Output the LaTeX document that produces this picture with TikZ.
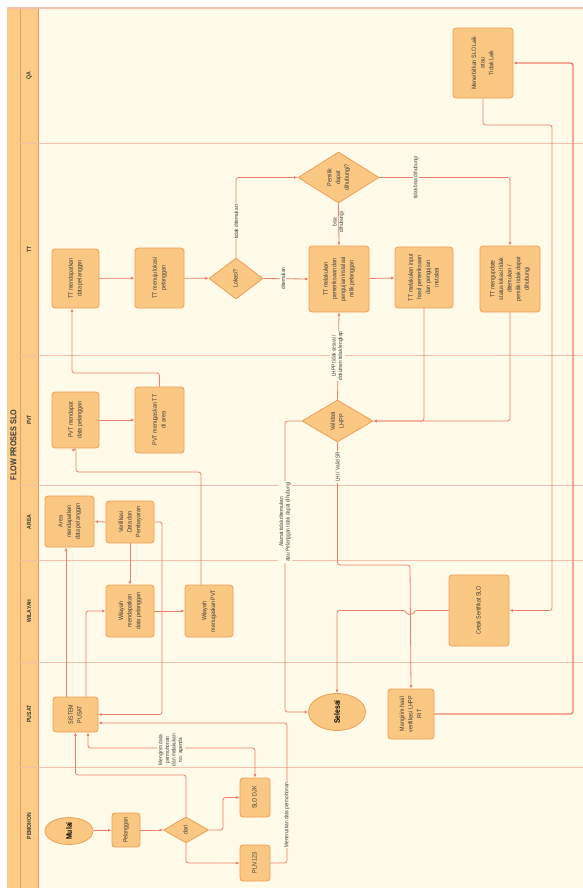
\documentclass[tikz,border=0pt]{standalone}
\usepackage{fontspec}
\setmainfont{Liberation Sans}[FakeStretch=0.85]
\usepackage{graphicx}
\usetikzlibrary{arrows.meta,shapes.geometric,calc}
\definecolor{bg}{HTML}{FFFBE8}
\definecolor{hdr}{HTML}{FCCB86}
\definecolor{hdrline}{HTML}{E89A6A}
\definecolor{sep}{HTML}{F8BEAE}
\definecolor{boxfill}{HTML}{FAC882}
\definecolor{boxline}{HTML}{EE9E5A}
\definecolor{lineclr}{HTML}{EF7F6A}
\definecolor{txt}{HTML}{3A3A3A}
\newcommand{\rt}[1]{\rotatebox{90}{\begin{tabular}{@{}c@{}}#1\end{tabular}}}
\newcommand{\txtfont}{\fontsize{6.3}{8.6}\selectfont}
\newcommand{\lblfont}{\fontsize{5.6}{6.6}\selectfont}
\begin{document}
\begin{tikzpicture}[x=1pt,y=-1pt,
  box/.style={draw=boxline, fill=boxfill, rounded corners=3pt, line width=0.8pt, inner sep=0pt, font=\txtfont, text=txt},
  dia/.style={diamond, draw=boxline, fill=boxfill, line width=0.8pt, inner sep=0pt, font=\txtfont, text=txt},
  term/.style={ellipse, draw=boxline, fill=boxfill, line width=0.8pt, inner sep=0pt, font=\bfseries\fontsize{8}{9}\selectfont, text=txt},
  con/.style={draw=lineclr, line width=0.8pt, rounded corners=2.5pt, -{Latex[length=3.5pt,width=3pt]}},
  lbl/.style={fill=bg, inner sep=0.8pt, font=\lblfont, text=txt},
  lane/.style={font=\bfseries\fontsize{6}{7}\selectfont, text=txt}
]
\useasboundingbox (0,0) rectangle (583,892);
\fill[white] (0,0) rectangle (583,892);
\fill[bg] (7,8) rectangle (583,888);
\fill[hdr] (7,8) rectangle (38,888);
\draw[hdrline, line width=0.6pt] (20,8) -- (20,888);
\draw[hdrline, line width=0.4pt] (38,8) -- (38,888);
\draw[sep, line width=1.2pt] (7,8) -- (583,8);
\foreach \yy in {143,355,485,560,662,767}{\draw[sep, line width=0.6pt] (20,\yy) -- (583,\yy);}

% title and lane names
\node[font=\bfseries\fontsize{8.5}{9}\selectfont, text=txt] (title) at (13.5,445) {\rotatebox{90}{FLOW PROSES SLO}};
\node[lane] (lqa) at (29,76) {\rotatebox{90}{QA}};
\node[lane] (ltt) at (29,249) {\rotatebox{90}{TT}};
\node[lane] (lpvt) at (29,420) {\rotatebox{90}{PVT}};
\node[lane] (larea) at (29,522) {\rotatebox{90}{AREA}};
\node[lane] (lwil) at (29,611) {\rotatebox{90}{WILAYAH}};
\node[lane] (lpus) at (29,714) {\rotatebox{90}{PUSAT}};
\node[lane] (lpem) at (29,826) {\rotatebox{90}{PEMOHON}};

% PEMOHON
\node[term, minimum width=48pt, minimum height=27pt, label={center:\bfseries\fontsize{8}{9}\selectfont\rotatebox{90}{Mulai}}] (mulai) at (69,831) {};
\node[box, minimum width=28pt, minimum height=34pt] (pel) at (126,830) {\rt{Pelanggan}};
\node[dia, minimum width=45pt, minimum height=26pt, label={[font=\txtfont,text=txt]center:\rt{dari}}] (dari) at (186,830) {};
\node[box, minimum width=30pt, minimum height=39pt] (slo) at (255,797.5) {\rt{SLO DJK}};
\node[box, minimum width=30pt, minimum height=36pt] (pln) at (255,863) {\rt{PLN 123}};

% PUSAT
\node[box, minimum width=45pt, minimum height=35pt] (sis) at (75.5,714.5) {\rt{SISTEM\\PUSAT}};
\node[term, minimum width=57pt, minimum height=37pt, label={center:\bfseries\fontsize{8}{9}\selectfont\rotatebox{90}{Selesai}}] (sel) at (337,712) {};
\node[box, minimum width=46pt, minimum height=50pt] (kirim) at (411,714) {\rt{Mengirim hasil\\verifikasi LHPP\\RIT}};

% WILAYAH
\node[box, minimum width=48pt, minimum height=52pt] (wil1) at (130,611) {\rt{Wilayah\\mendapatkan\\data pelanggan}};
\node[box, minimum width=48pt, minimum height=52pt] (wil2) at (209,611) {\rt{Wilayah\\menugaskan PVT}};
\node[box, minimum width=60pt, minimum height=71pt] (cetak) at (479,610.5) {\rt{Cetak Sertifikat SLO}};

% AREA
\node[box, minimum width=49pt, minimum height=51pt] (area) at (69.5,521.5) {\rt{Area\\mendapatkan\\data pelanggan}};
\node[box, minimum width=48pt, minimum height=42pt] (ver) at (130,522) {\rt{Verifikasi\\Data dan\\Pembayaran}};

% PVT
\node[box, minimum width=47pt, minimum height=56pt] (pvt1) at (75.5,420) {\rt{PVT mendapat\\data pelanggan}};
\node[box, minimum width=49pt, minimum height=66pt] (pvt2) at (159.5,420) {\rt{PVT menugaskan TT\\di area}};
\node[dia, minimum width=71pt, minimum height=42pt, label={[font=\txtfont,text=txt]center:\rt{Validasi\\LHPP}}] (val) at (337.5,421) {};

% TT
\node[box, minimum width=47pt, minimum height=59pt] (tt1) at (75.5,278.5) {\rt{TT mendapatkan\\data pelanggan}};
\node[box, minimum width=49pt, minimum height=60pt] (tt2) at (159.5,278) {\rt{TT menuju lokasi\\pelanggan}};
\node[dia, minimum width=54pt, minimum height=41pt, label={[font=\txtfont,text=txt]center:\rt{Lokasi?}}] (lok) at (236,278.5) {};
\node[box, minimum width=60pt, minimum height=66pt] (ttp) at (339,279) {\rt{TT melakukan\\pemeriksaan dan\\pengujian instalasi\\milik pelanggan}};
\node[box, minimum width=58pt, minimum height=61pt] (tti) at (424,277.5) {\rt{TT melakukan input\\hasil pemeriksaan\\dan pengujian\\instalasi}};
\node[box, minimum width=60pt, minimum height=66pt] (ttu) at (510,279) {\rt{TT mengupdate\\status lokasi tidak\\ditemukan /\\pemilik tidak dapat\\dihubungi}};
\node[dia, minimum width=81pt, minimum height=51pt, label={[font=\txtfont,text=txt]center:\rt{Pemilik\\dapat\\dihubungi?}}] (pem) at (338.5,177.5) {};

% QA
\node[box, minimum width=60pt, minimum height=70pt] (qa) at (483,63) {\rt{Menerbitkan SLO Laik\\atau\\Tidak Laik}};

% connectors
\draw[con] (mulai) -- (pel);
\draw[con] (pel) -- (dari);
\draw[con] (dari.east) -- (223,830) |- (slo.west);
\draw[con] (dari.south) |- (pln.west);
\draw[con] (dari.north) -- (186,775) -| (sis.south);
\draw[con, {Latex[length=3.5pt,width=3pt]}-{Latex[length=3.5pt,width=3pt]}] ([xshift=12.5pt]sis.south) |- (255,748) -- (slo.north);
\node[lbl] (lblslo) at (171,750) {\rt{Mengirim data\\permohonan\\dan melakukan\\no. agenda}};
\draw[con] (pln.east) -- (287,863) |- ([yshift=-8.5pt]sis.east);
\node[lbl] (lblpln) at (287,815) {\rotatebox{90}{Meneruskan data permohonan}};

\draw[con] ([xshift=-9.5pt]sis.north) -- ([xshift=-9.5pt]sis.north |- area.south);
\draw[con] ([xshift=10.5pt]sis.north) |- (wil1.west);
\draw[con] (ver.east) -- (162,522) |- (sis.east);
\draw[con] (ver.west) -- (area.east);
\draw[con] (ver.south) -- (wil1.north);
\draw[con] (wil1.east) -- (wil2.west);
\draw[con] ([xshift=-8pt]wil2.north) |- (76,472) -- (76,448) -- (pvt1.south);
\draw[con] (pvt1) -- (pvt2);
\draw[con] (pvt2.north) |- (72,373) -- (tt1.south -| 72,0);

\draw[con] (tt1) -- (tt2);
\draw[con] (tt2) -- (lok);
\draw[con] (lok.east) -- (ttp.west);
\node[lbl] (lbldit) at (283,278.5) {\rotatebox{90}{ditemukan}};
\draw[con] (lok.north) |- (pem.west);
\node[lbl] (lbltd) at (236,222) {\rotatebox{90}{tidak ditemukan}};
\draw[con] (pem.south) -- (ttp.north);
\node[lbl, fill=none] (lblbisa) at (338.5,222) {\rt{bisa\\dihubungi}};
\draw[con] (pem.east) -| (ttu.north);
\node[lbl] (lbltbd) at (416,177.5) {\rotatebox{90}{tidak bisa dihubungi}};
\draw[con] (ttp) -- (tti);
\draw[con] (tti.south) |- (val.east);
\draw[con] (ttu.south) |- (val.east);
\draw[con] (val.north) -- (ttp.south);
\node[lbl] (lbllhpp) at (337.5,356) {\rt{LHPP tidak sesuai /\\dokumen tidak lengkap}};
\draw[con] (val.south) |- (410,565) -- (kirim.north);
\node[lbl] (lbllhi) at (337.5,467) {\rotatebox{90}{LHI / Valid SR}};
\draw[con] (val.west) -- (285,421) |- (sel.west);
\node[lbl] (lblalm) at (285,522) {\rt{Alamat tidak ditemukan\\atau Pelanggan tidak dapat dihubungi}};
\draw[con] (cetak.west) -- (414,610.5) arc[start angle=0, end angle=-180, radius=4pt] -- (337,610.5) -- (sel.north);
\draw[con] (qa.south) |- (552,125) |- (cetak.east);
\draw[con, line width=1.4pt] (kirim.east) -| (573,63) -- (qa.east);
\end{tikzpicture}
\end{document}
